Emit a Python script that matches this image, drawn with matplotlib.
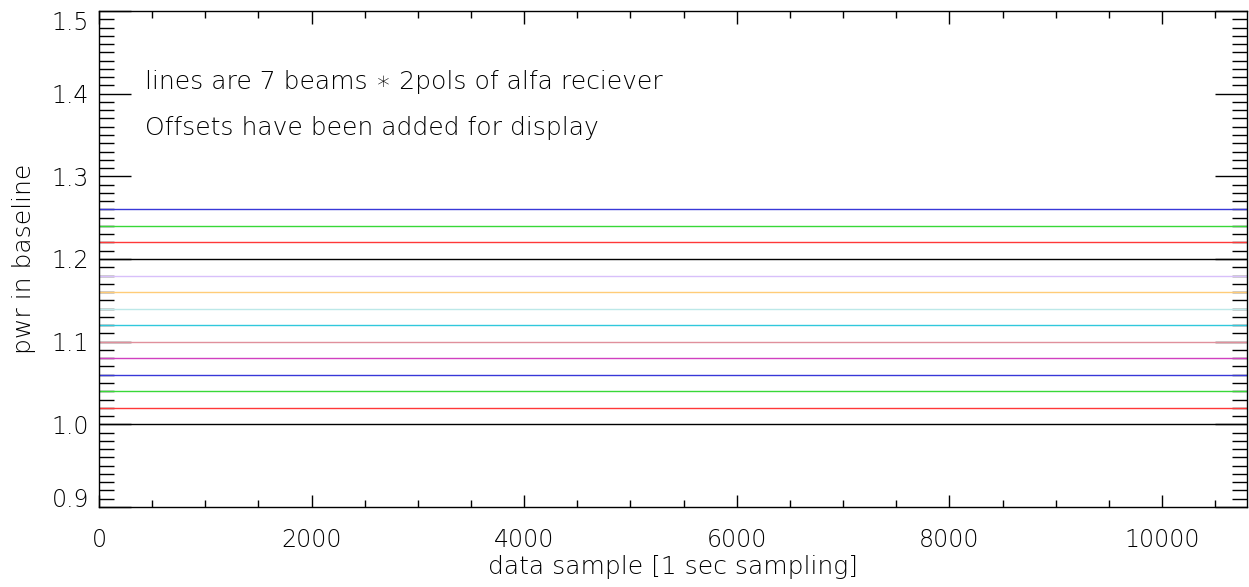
import matplotlib
matplotlib.use('Agg')
import matplotlib.pyplot as plt
from matplotlib.ticker import MultipleLocator

# 7 beams * 2 pols, offset by 0.02 each for display
levels = [1.00, 1.02, 1.04, 1.06, 1.08, 1.10, 1.12,
          1.14, 1.16, 1.18, 1.20, 1.22, 1.24, 1.26]
colors = ['#000000', '#ff3838', '#38d838', '#3838d8', '#d040c0', '#e0909c', '#30c8dc',
          '#bce8e8', '#ffcc78', '#d8c0fa', '#000000', '#ff3838', '#38d838', '#3838d8']
xrange_ = [0, 10800]
yticks = [0.9, 1.0, 1.1, 1.2, 1.3, 1.4, 1.5]

plt.rcParams['font.family'] = ['DejaVu Sans']
plt.rcParams['font.weight'] = 'light'
plt.rcParams['axes.labelweight'] = 'light'

fig = plt.figure(figsize=(12.49, 5.87), dpi=100)
ax = fig.add_axes([99/1249, 1 - 507/587, (1247 - 99)/1249, (507 - 11)/587])

for lvl, c in zip(levels, colors):
    ax.plot(xrange_, [lvl, lvl], color=c, lw=1.0)

ax.set_xlim(0, 10800)
ax.set_ylim(0.9, 1.5)
ax.xaxis.set_major_locator(MultipleLocator(2000))
ax.xaxis.set_minor_locator(MultipleLocator(500))
ax.set_yticks(yticks)
ax.set_yticklabels(['%.1f' % v for v in yticks])
ax.yaxis.set_minor_locator(MultipleLocator(0.01))
ax.tick_params(which='both', direction='in', top=True, right=True, labelsize=17, width=1,
               labelcolor='black')
ax.tick_params(axis='y', which='major', length=23, pad=7)
ax.tick_params(axis='y', which='minor', length=11)
ax.tick_params(axis='x', which='major', length=9, pad=15)
ax.tick_params(axis='x', which='minor', length=5)
for s in ax.spines.values():
    s.set_linewidth(1)

# IDL style: end labels pulled inside the axis range
ylabs = ax.get_yticklabels()
ylabs[0].set_va('baseline')
ylabs[-1].set_va('top')

ax.set_xlabel('data sample [1 sec sampling]', fontsize=18, labelpad=2,
              color='black', fontweight='light')
ax.set_ylabel('pwr in baseline', fontsize=18, labelpad=11,
              color='black', fontweight='light')

ax.text(433, 1.4057, 'lines are 7 beams \u2217 2pols of alfa reciever', fontsize=18,
        va='baseline', color='black')
ax.text(433, 1.35, 'Offsets have been added for display', fontsize=18,
        va='baseline', color='black')

fig.savefig('out.png', dpi=100)
